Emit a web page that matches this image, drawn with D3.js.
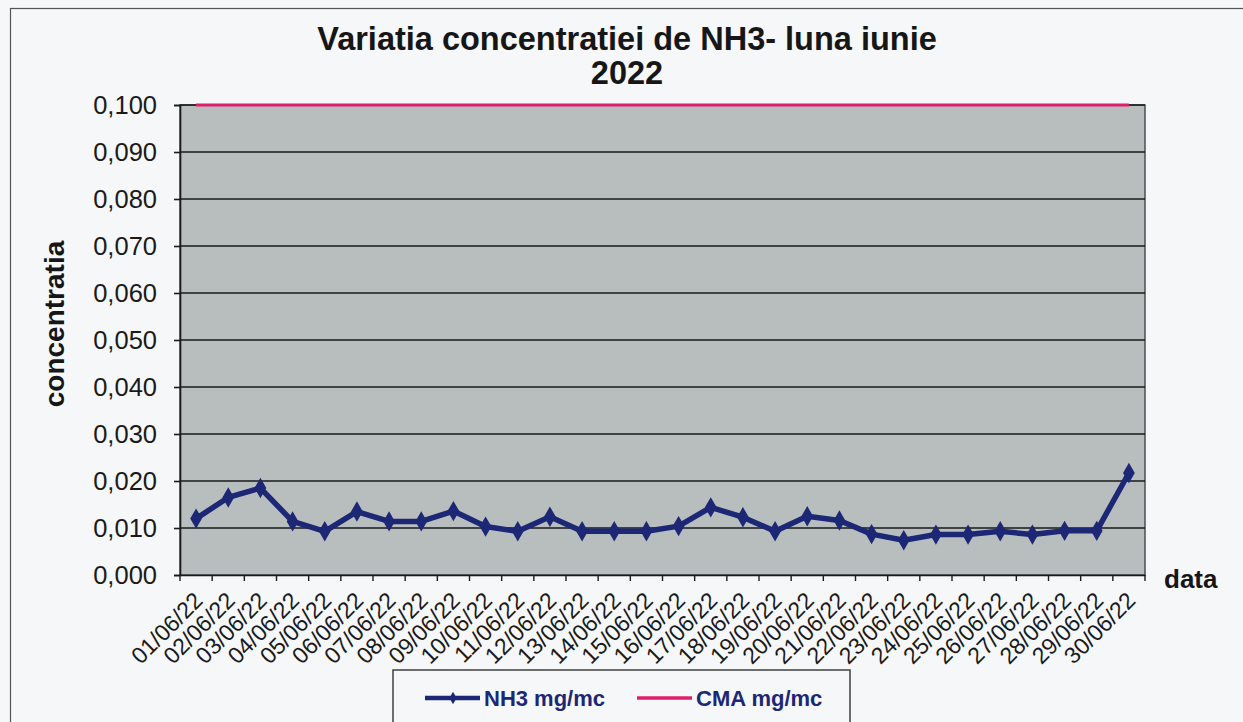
<!DOCTYPE html>
<html>
<head>
<meta charset="utf-8">
<script src="https://cdn.jsdelivr.net/npm/d3@7"></script>
<style>
  body { margin: 0; background: #f6f7f9; }
  svg { display: block; font-family: "Liberation Sans", Arial, sans-serif; }
</style>
</head>
<body>
<div id="chart"></div>
<script>
var width = 1243;
var height = 722;

// date labels for june 2022
var dates = ["01/06/22", "02/06/22", "03/06/22", "04/06/22", "05/06/22", "06/06/22", "07/06/22", "08/06/22", "09/06/22", "10/06/22",
  "11/06/22", "12/06/22", "13/06/22", "14/06/22", "15/06/22", "16/06/22", "17/06/22", "18/06/22", "19/06/22", "20/06/22",
  "21/06/22", "22/06/22", "23/06/22", "24/06/22", "25/06/22", "26/06/22", "27/06/22", "28/06/22", "29/06/22", "30/06/22"];
var nh3 = [0.012, 0.0165, 0.0185, 0.0114, 0.0093, 0.0135, 0.0114, 0.0114, 0.0136, 0.0103,
  0.0093, 0.0124, 0.0093, 0.0093, 0.0093, 0.0104, 0.0144, 0.0123, 0.0093, 0.0125,
  0.0116, 0.0087, 0.0074, 0.0086, 0.0086, 0.0093, 0.0086, 0.0094, 0.0094, 0.0217];
var cma = dates.map(() => 0.1);
var yTicks = [0, 0.01, 0.02, 0.03, 0.04, 0.05, 0.06, 0.07, 0.08, 0.09, 0.1];

var navy = "#1c2775";
var pink = "#e01e6e";

var svg = d3.select("#chart")
  .append("svg")
  .attr("width", width)
  .attr("height", height);

// outer chart border
svg.append("rect")
  .attr("x", 10.5).attr("y", 8.5)
  .attr("width", 1250).attr("height", 730)
  .attr("fill", "none")
  .attr("stroke", "#555")
  .attr("stroke-width", 1.2);

var plot = { left: 180, top: 105, right: 1145, bottom: 575 };

var xScale = d3.scaleBand()
  .domain(dates)
  .range([plot.left, plot.right]);

var yScale = d3.scaleLinear()
  .domain([0, 0.1])
  .range([plot.bottom, plot.top]);

// gray plot area
svg.append("rect")
  .attr("x", plot.left).attr("y", plot.top)
  .attr("width", plot.right - plot.left)
  .attr("height", plot.bottom - plot.top)
  .attr("fill", "#b8bdbe")
  .attr("stroke", "#4a4f52")
  .attr("stroke-width", 1.5);

// gridlines
svg.append("g")
  .selectAll("line")
  .data(yTicks.slice(1))
  .enter()
  .append("line")
  .attr("x1", plot.left).attr("x2", plot.right)
  .attr("y1", d => yScale(d)).attr("y2", d => yScale(d))
  .attr("stroke", "#1a1a1a")
  .attr("stroke-width", 1.6);

// y axis
var yAxis = d3.axisLeft(yScale)
  .tickValues(yTicks)
  .tickSize(6)
  .tickPadding(17)
  .tickFormat(d => d3.format(".3f")(d).replace(".", ","));

svg.append("g")
  .attr("transform", "translate(" + plot.left + ",0)")
  .call(yAxis)
  .call(g => g.selectAll("text").attr("font-size", "25.5px").attr("fill", "#1a1a1a"))
  .call(g => g.selectAll("line, path").attr("stroke", "#1a1a1a").attr("stroke-width", 1.6));

// x axis: ticks between categories
var xAxis = d3.axisBottom(xScale).tickSize(0).tickPadding(0);
var xg = svg.append("g")
  .attr("transform", "translate(0," + plot.bottom + ")")
  .call(xAxis);
xg.select(".domain").attr("stroke", "#1a1a1a").attr("stroke-width", 1.6);

xg.selectAll(".bnd")
  .data(d3.range(dates.length + 1))
  .enter()
  .append("line")
  .attr("x1", i => plot.left + i * xScale.step())
  .attr("x2", i => plot.left + i * xScale.step())
  .attr("y1", 0).attr("y2", 6)
  .attr("stroke", "#1a1a1a")
  .attr("stroke-width", 1.4);

xg.selectAll(".tick text")
  .attr("font-size", "23px")
  .attr("fill", "#1a1a1a")
  .attr("text-anchor", "end")
  .attr("dy", "0")
  .attr("transform", "translate(8,27) rotate(-45)");

// lines
var line = d3.line()
  .x((d, i) => xScale(dates[i]) + xScale.bandwidth() / 2)
  .y(d => yScale(d));

svg.append("path")
  .datum(cma)
  .attr("d", line)
  .attr("fill", "none")
  .attr("stroke", pink)
  .attr("stroke-width", 3);

svg.append("path")
  .datum(nh3)
  .attr("d", line)
  .attr("fill", "none")
  .attr("stroke", navy)
  .attr("stroke-width", 5.5)
  .attr("stroke-linejoin", "round");

svg.append("g")
  .selectAll("path")
  .data(nh3)
  .enter()
  .append("path")
  .attr("d", d3.symbol().type(d3.symbolDiamond).size(120))
  .attr("transform", (d, i) => "translate(" + (xScale(dates[i]) + xScale.bandwidth() / 2) + "," + yScale(d) + ")")
  .attr("fill", navy);

// title
var title = svg.append("text")
  .attr("x", 627)
  .attr("y", 50)
  .attr("text-anchor", "middle")
  .attr("font-size", "32.5px")
  .attr("font-weight", "bold")
  .attr("fill", "#161616");
title.append("tspan").attr("x", 627).text("Variatia concentratiei de NH3- luna iunie");
title.append("tspan").attr("x", 627).attr("dy", 34).text("2022");

// axis titles
svg.append("text")
  .attr("transform", "translate(64,324) rotate(-90)")
  .attr("text-anchor", "middle")
  .attr("font-size", "28px")
  .attr("font-weight", "bold")
  .attr("fill", "#161616")
  .text("concentratia");

svg.append("text")
  .attr("x", 1164)
  .attr("y", 588)
  .attr("font-size", "26px")
  .attr("font-weight", "bold")
  .attr("fill", "#161616")
  .text("data");

// legend
var legend = svg.append("g").attr("id", "legend");
legend.append("rect")
  .attr("x", 393).attr("y", 670)
  .attr("width", 457).attr("height", 70)
  .attr("fill", "#f6f7f9")
  .attr("stroke", "#333")
  .attr("stroke-width", 1.4);

var legendItems = [
  { name: "NH3 mg/mc", color: navy, x: 425, marker: true },
  { name: "CMA mg/mc", color: pink, x: 637, marker: false }
];
var li = legend.selectAll(".legend-item")
  .data(legendItems)
  .enter()
  .append("g")
  .attr("class", "legend-item");
li.append("line")
  .attr("x1", d => d.x).attr("x2", d => d.x + 55)
  .attr("y1", 698).attr("y2", 698)
  .attr("stroke", d => d.color)
  .attr("stroke-width", d => d.marker ? 4.5 : 3.5);
li.filter(d => d.marker)
  .append("path")
  .attr("d", d3.symbol().type(d3.symbolDiamond).size(45))
  .attr("transform", d => "translate(" + (d.x + 28) + ",698)")
  .attr("fill", d => d.color);
li.append("text")
  .attr("x", d => d.x + 59)
  .attr("y", 706)
  .attr("font-size", "22px")
  .attr("font-weight", "bold")
  .attr("fill", navy)
  .text(d => d.name);
</script>
</body>
</html>
